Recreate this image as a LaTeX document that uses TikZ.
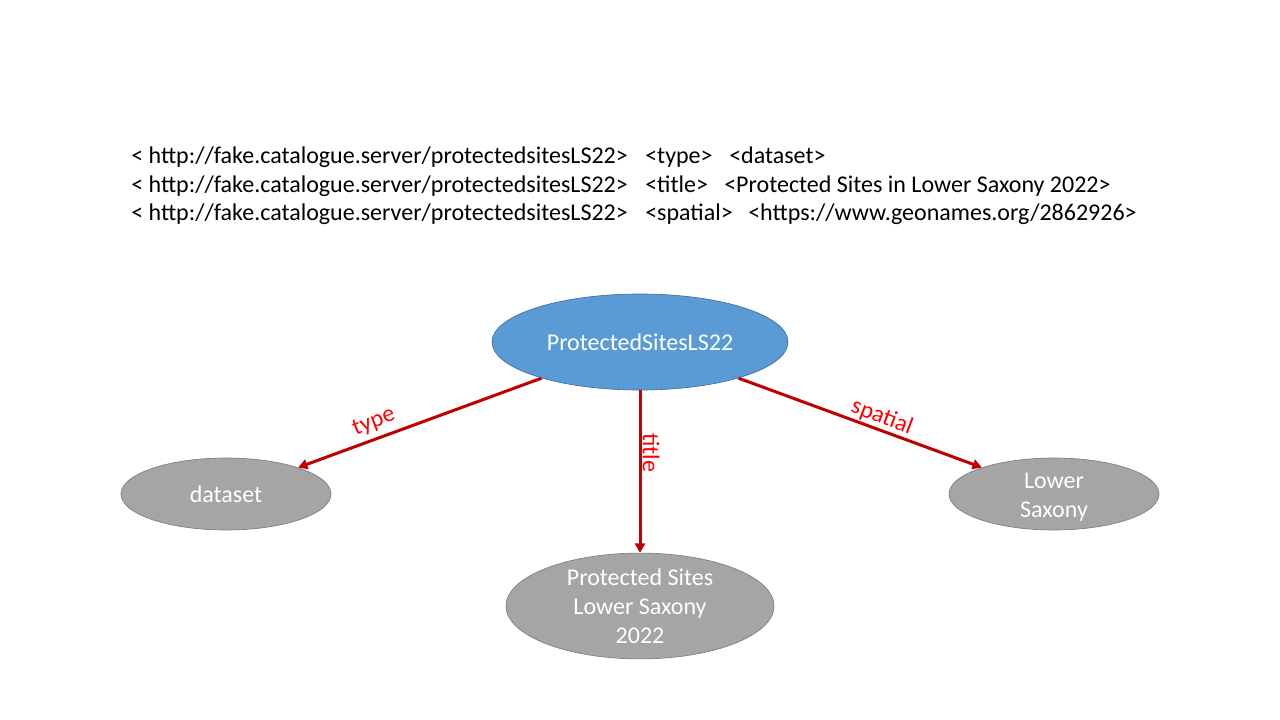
\documentclass[tikz,border=0pt]{standalone}
\usepackage{fontspec}
\setmainfont{Carlito}
\usetikzlibrary{shapes.geometric,arrows.meta}
\definecolor{mainblue}{HTML}{5B9BD5}
\definecolor{mainblueedge}{HTML}{41719C}
\definecolor{greyfill}{HTML}{A5A5A5}
\definecolor{greyedge}{HTML}{7F7F7F}
\definecolor{arrowred}{HTML}{C00000}
\definecolor{labelred}{HTML}{FF0000}
\tikzset{
  triple/.style={anchor=base west,inner sep=0pt,font=\fontsize{18}{21.6}\selectfont},
  blob/.style={ellipse,inner sep=0pt,line width=0.5pt,text=white,align=center,
    font=\fontsize{18}{21.75}\selectfont},
  mainblob/.style={blob,fill=mainblue,draw=mainblueedge},
  greyblob/.style={blob,fill=greyfill,draw=greyedge},
  blobtext/.style={inner sep=0pt,text=white,align=center,font=\fontsize{18}{21.75}\selectfont},
  rel/.style={draw=arrowred,line width=2.25pt,-{Triangle[length=7pt,width=7.5pt]}},
  rellabel/.style={text=labelred,inner sep=0pt,font=\fontsize{18}{21.6}\selectfont}
}
\begin{document}
\begin{tikzpicture}[x=0.75pt,y=-0.75pt]
\useasboundingbox (0,0) rectangle (1280,720);
% triples
\node[triple] (s1) at (131,164) {< http://fake.catalogue.server/protectedsitesLS22>};
\node[triple] (s2) at (131,193) {< http://fake.catalogue.server/protectedsitesLS22>};
\node[triple] (s3) at (131,221) {< http://fake.catalogue.server/protectedsitesLS22>};
\node[triple] (p1) at (645,164) {<type>};
\node[triple] (p2) at (645,193) {<title>};
\node[triple] (p3) at (645,221) {<spatial>};
\node[triple] (o1) at (729,164) {<dataset>};
\node[triple] (o2) at (724,193) {<Protected Sites in Lower Saxony 2022>};
\node[triple] (o3) at (748,221) {<https://www.geonames.org/2862926>};
% graph
\node[mainblob,minimum width=222pt,minimum height=72pt] (main) at (640,342) {ProtectedSitesLS22};
\node[greyblob,minimum width=157.5pt,minimum height=54pt] (ds) at (226,494) {dataset};
\node[greyblob,minimum width=201pt,minimum height=73.5pt] (ti) at (640,606) {Protected Sites\\Lower Saxony\\2022};
\node[greyblob,minimum width=157.5pt,minimum height=54pt] (ls) at (1054,494) {};
\node[blobtext] (lstext) at (1054,497) {Lower\\Saxony};
\draw[rel] (main) -- (ds);
\draw[rel] (main) -- (ti);
\draw[rel] (main) -- (ls);
\node[rellabel,rotate=20.8] (lt) at (374,422) {type};
\node[rellabel,rotate=-90] (lti) at (651,453) {title};
\node[rellabel,rotate=-20.7] (lsp) at (882,417) {spatial};
\end{tikzpicture}
\end{document}
